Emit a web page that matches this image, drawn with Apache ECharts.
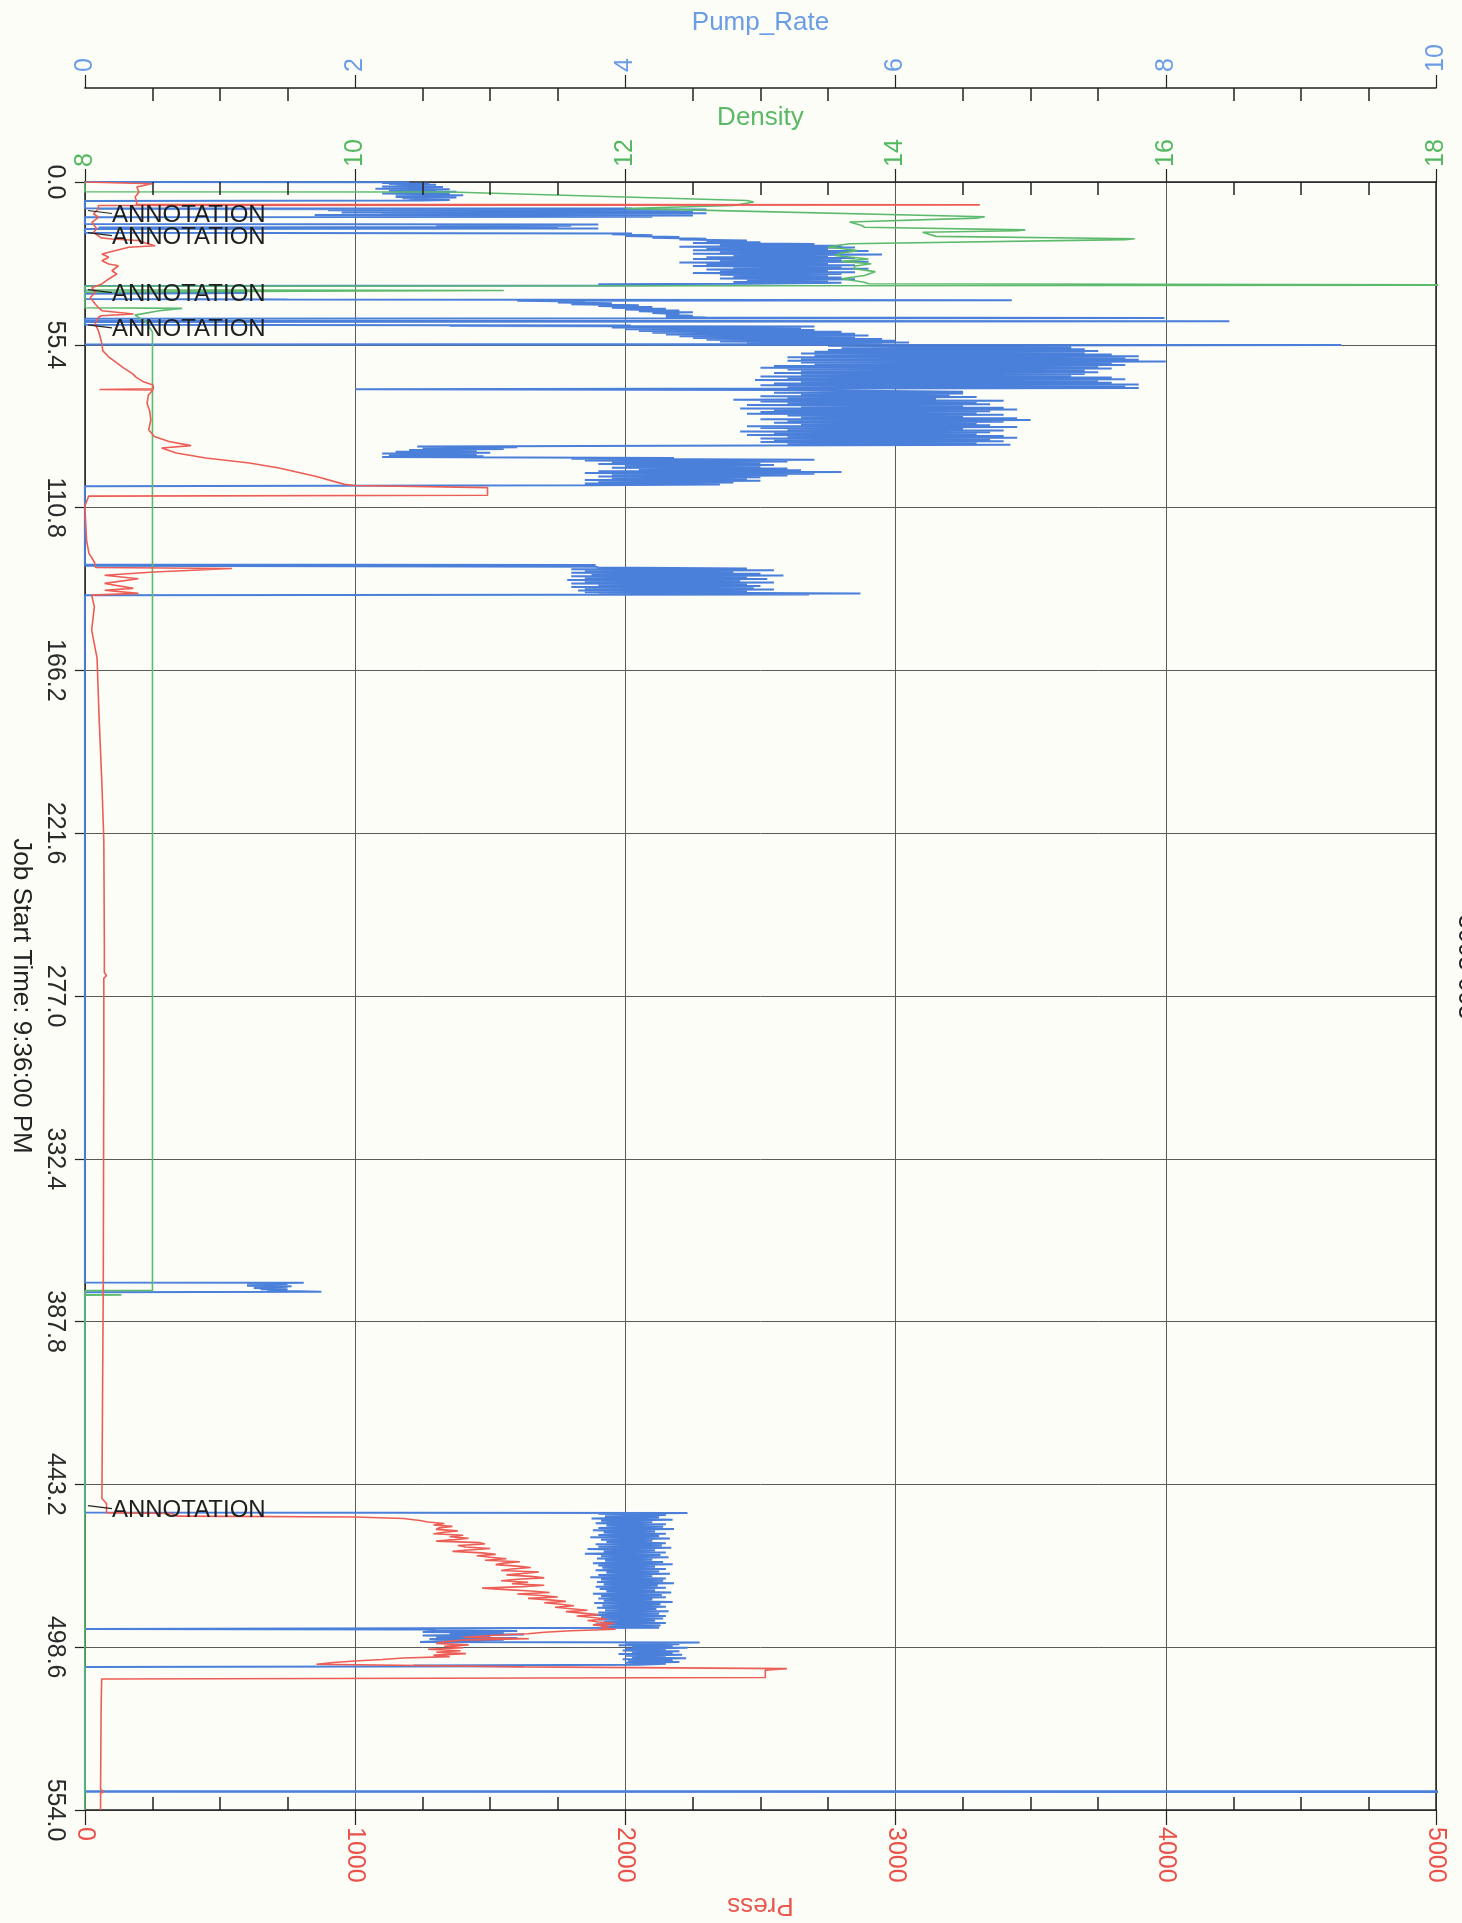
<!DOCTYPE html>
<html>
<head>
<meta charset="utf-8">
<script src="https://cdn.jsdelivr.net/npm/echarts@6/dist/echarts.min.js"></script>
<style>
html,body{margin:0;padding:0;background:#fdfdf8;}
#chart{width:1462px;height:1923px;}
</style>
</head>
<body>
<div id="chart"></div>
<script>
// ---------- axis ticks ----------
const timeTicks = [0, 55.4, 110.8, 166.2, 221.6, 277.0, 332.4, 387.8, 443.2, 498.6, 554.0];
const pressTicks = [0, 1000, 2000, 3000, 4000, 5000];
const densityTicks = [8, 10, 12, 14, 16, 18];
const pumpTicks = [0, 2, 4, 6, 8, 10];

// ---------- Pump_Rate (time, bpm) ----------
const pumpStart = [
  [0,0],[0.1,2.4],[0.3,2.2],[0.5,2.55],[0.7,2.25],[0.9,2.6],[1.1,2.3],[1.3,2.5],[1.5,2.2],[1.7,2.65],
  [1.9,2.3],[2.1,2.55],[2.3,2.15],[2.5,2.7],[2.7,2.3],[2.9,2.6],[3.1,2.25],[3.3,2.75],[3.5,2.35],[3.7,2.6],
  [3.9,2.2],[4.1,2.7],[4.3,2.3],[4.5,2.8],[4.7,2.4],[4.9,2.65],[5.1,2.3],[5.3,2.75],[5.5,2.35],[5.7,2.6],
  [5.9,2.4],[6.1,2.7],[6.3,2.5],[6.5,0],
  [8.9,0],[9.0,4.05],[9.2,0.1],[9.4,4.6],[9.6,1.8],[9.8,4.4],[10.0,2.0],[10.2,4.5],[10.4,1.9],[10.6,4.6],
  [10.8,2.2],[11.0,4.3],[11.2,1.7],[11.4,4.5],[11.6,2.1],[11.8,4.2],[12.0,0],
  [14.3,0],[14.5,3.8],[14.7,2.6],[14.9,3.6],[15.1,2.7],[15.3,3.5],[15.5,0.1],[15.8,3.8],[16.0,0],
  [17.3,0],[17.5,4.05],[17.8,3.9],[18.1,4.2],[18.4,4.0],[18.7,4.4],[19.0,4.2],[19.3,4.6],[19.6,4.4],
  [19.9,4.9],[20.2,4.6],[20.5,5.0]
];
const pumpBurst1 = [4.5,5.4,4.7,5.6,4.4,5.7,4.6,5.5,4.5,5.8,4.7,5.6,4.5,5.9,4.8,5.5,4.6,5.7,4.5,5.6,
  4.7,5.8,4.4,5.5,4.6,5.7,4.5,5.6,4.8,5.8,4.6,5.5,4.7,5.7,4.5,5.6,4.7,5.5,4.8,5.6,4.7,5.7,4.9,5.5,4.8,5.6,4.9];
const pumpMid1 = [
  [34.8,3.8],[35.0,4.7],[35.2,3.9],[35.4,0],[37.6,0],[37.8,1.2],[38.0,0],[39.8,0],[40.0,1.5],[40.2,6.86],
  [40.4,3.2],[40.7,3.7],[41.0,3.5],[41.3,3.9],[41.6,3.6],[41.9,4.1],[42.2,3.8],[42.5,4.2],[42.8,3.9],[43.1,4.3],
  [43.4,4.0],[43.7,4.4],[44.0,4.1],[44.3,4.5],[44.6,4.2],[44.9,4.4],[45.2,4.3],[45.5,4.5],[45.8,4.3],[46.1,4.6],
  [46.3,7.99],[46.5,0],[47.2,0],[47.4,8.47],[47.6,0],[48.6,0],[48.8,4.04],[49.0,2.7],[49.2,5.4],[49.5,3.9],
  [49.8,5.3],[50.1,4.0],[50.4,5.4],[50.7,4.1],[51.0,5.6],[51.3,4.2],[51.6,5.7],[51.9,4.3],[52.2,5.8],[52.5,4.4],
  [52.8,5.7],[53.1,4.5],[53.4,5.9],[53.7,4.6],[54.0,6.0],[54.3,4.7],[54.6,6.1],[54.9,4.9],[55.1,5.9],[55.3,0],
  [55.5,9.3],[55.7,5.5]
];
const pumpBurst2 = [5.5,7.3,5.6,7.4,5.5,7.5,5.4,7.4,5.3,7.6,5.4,7.8,5.2,7.7,5.3,7.8,5.2,8.0,5.3,7.6,
  5.4,7.7,5.1,7.5,5.0,7.6,5.2,7.4,5.3,7.5,5.1,7.4,5.3,7.3,5.0,7.6,5.2,7.7,4.96,7.5,5.3,7.6,5.1,7.8,5.0,7.7,5.2,7.8];
const pumpMid2 = [[70.5,2.0],[70.8,5.2]];
const pumpBurst3 = [5.2,6.5,5.1,6.5,5.3,6.4,5.0,6.6,5.2,6.3,4.8,6.8,5.0,6.6,5.2,6.7,4.9,6.5,5.3,6.8,
  4.85,6.9,5.1,6.7,5.0,6.6,4.9,6.8,5.2,6.5,5.3,6.9,5.0,7.0,5.2,6.8,5.1,6.6,5.3,6.7,
  4.9,6.9,5.0,6.5,5.2,6.8,4.85,6.7,5.1,6.6,4.9,6.8,5.2,6.9,5.0,6.7,5.1,6.8,5.0,6.6,5.2,6.85];
const pumpMid3 = [
  [89.8,6.85],[90.0,2.46],[90.3,3.2],[90.6,2.5],[90.9,3.1],[91.2,2.4],[91.5,2.9],[91.8,2.3],[92.1,3.0],[92.4,2.2],
  [92.7,2.9],[93.0,2.25],[93.3,2.95],[93.6,2.2],[93.9,4.36],[94.2,3.6],[94.5,5.4],[94.8,3.7],[95.1,5.2],[95.4,3.9],
  [95.7,5.0],[96.0,3.8],[96.3,5.1],[96.6,4.0],[96.9,5.0],[97.2,3.9],[97.5,5.2],[97.8,4.1],[98.1,5.3],[98.4,3.8],
  [98.7,5.6],[99.0,3.7],[99.3,5.4],[99.6,3.9],[99.9,5.2],[100.2,3.8],[100.5,5.0],[100.8,3.9],[101.1,4.9],[101.4,3.7],
  [101.7,5.0],[102.0,3.8],[102.3,4.8],[102.6,3.7],[102.9,4.7],[103.2,3.7],[103.5,0],
  [130.2,0],[130.3,3.78],[130.6,0],[130.9,3.78]
];
const pumpBurst4 = [3.8,4.9,3.6,5.1,3.7,4.8,3.6,5.0,3.75,5.17,3.6,4.9,3.7,5.05,3.57,4.85,3.7,5.1,3.6,4.9,
  3.8,5.0,3.6,4.95,3.7,5.1,3.65,4.9,3.7];
const pumpMid4 = [[140.0,5.74],[140.2,3.8],[140.4,5.36],[140.6,0],[374.5,0],[374.6,1.62]];
const pumpBurst5 = [1.2,1.5,1.25,1.45,1.2,1.53,1.3,1.5,1.25,1.45,1.3,1.5,1.35,1.5];
const pumpMid5 = [[377.6,1.75],[377.8,0],[452.8,0],[452.9,4.46]];
const pumpBurst6 = [3.8,4.3,3.85,4.25,3.75,4.35,3.82,4.2,3.78,4.3,3.86,4.28,3.8,4.36,3.76,4.22,3.84,4.3,3.8,4.25,
  3.74,4.33,3.82,4.2,3.86,4.3,3.78,4.27,3.8,4.34,3.72,4.22,3.84,4.3,3.7,4.26,3.82,4.32,3.79,4.2,
  3.85,4.28,3.76,4.35,3.8,4.22,3.83,4.3,3.78,4.25,3.86,4.33,3.8,4.2,3.74,4.3,3.82,4.28,3.79,4.36,
  3.84,4.24,3.78,4.3,3.81,4.22,3.86,4.34,3.76,4.27,3.82,4.3,3.8,4.2,3.84,4.35,3.77,4.26,3.83,4.3,
  3.79,4.23,3.85,4.32,3.8,4.25,3.76,4.3,3.82,4.28,3.8,4.22,3.84,4.3,3.78,4.26,3.82,4.25];
const pumpMid6 = [[492.3,4.25],[492.4,0],[492.6,2.5]];
const pumpBurst7 = [2.6,3.2,2.5,3.1,2.7,3.25,2.5,3.0,2.6,3.2,2.55,3.1,2.7];
const pumpMid7 = [[496.8,2.48],[497.0,4.55]];
const pumpBurst8 = [4.0,4.4,3.95,4.35,4.05,4.46,4.0,4.3,3.98,4.4,4.05,4.35,3.95,4.42,4.0,4.3,4.05,4.45,3.98,4.35,4.02,4.4,4.0,4.3];
const pumpEnd = [[504.6,4.1],[504.8,2.43],[505.1,3.25],[505.3,0],[547.6,0],[547.65,10.5],[547.8,0],[547.85,10.5]];

// ---------- Press (time, psi) ----------
const pressStart = [
  [0,0],[0.3,0],[0.6,248],[1.7,192],[3.4,200],[5.1,186],[6.8,192],[7.6,190],[7.8,3312],[8.0,50],
  [9.1,50],[10.8,32],[12,50],[13.7,26],[15.9,44],[17.1,32],[19.0,60],[19.4,100],[19.9,198],[21.1,235],
  [21.7,260],[22.2,162],[24.5,63],[25.6,88],[26.8,63],[27.9,88],[28.5,124],[30.2,100],[31.3,118],[33.0,88],
  [34.7,63],[35.9,26],[37.6,38],[39.3,20],[41.5,38],[42.7,50],[43.8,63],[44.9,180],[45.5,60],[46.1,50],
  [48.3,38],[50.6,50],[52.9,57],[55.1,63],[57.4,66],[59.7,90],[61.8,122],[63.1,140],[65.2,176],[66.5,190],
  [68,217],[69.1,252],[70.4,254],[70.6,54],[70.8,252],[72.5,235],[75.3,230],[78,240],[81,244],[84.3,236],
  [86.6,257],[88.3,311],[89.7,393],[90.5,284],[92.2,338],[93.9,447],[95.6,609],[97.3,718],[100.1,853],[102.9,961],
  [103.3,1000],[104,1490],[106.6,1490],[106.9,14],[110.2,0],[121.9,6],[126.4,15],[129.3,35],[131.2,40],[131.5,544],
  [132.7,256],[133.8,73],[135,198],[136.6,73],[138.3,179],[138.9,73],[140,198],[140.6,25],[144.6,35],[152.5,25],
  [162,45],[181,52],[205,63],[224,70],[259,72],[269,72],[270,80],[271,70],[300,70],[374,68],
  [448,63],[449.7,80],[452.8,80],[453.1,321],[454,339],[454.3,1000],[454.8,1179],[455.5,1240]
];
const pressClimb = [1268,1330,1290,1360,1310,1300,1380,1330,1290,1400,1350,1420,1370,1300,1460,1480,1380,1410,1500,1420,
  1360,1470,1520,1450,1500,1560,1480,1610,1550,1520,1600,1650,1580,1540,1680,1620,1560,1650,1700,1600,
  1540,1640,1580,1700,1620,1470,1560,1650,1720,1600,1690,1750,1640,1720,1780,1700,1760,1810,1740,1800,
  1860,1780,1840,1900,1820,1880,1930,1860,1900,1960,1880,1940,1910,1964,1800,1700,1640];
const pressEnd = [
  [494.6,1500],[495.2,1400],[495.7,1643],[496.2,1393],[496.8,1330],[497.3,1300],[497.8,1420],[498.3,1330],[498.8,1400],[499.3,1270],
  [499.8,1390],[500.3,1300],[500.8,1410],[501.3,1290],[501.8,1350],[502.3,1180],[502.8,1100],[503.3,1000],[503.8,920],[504.4,857],
  [505.3,1625],[505.9,2598],[506.4,2518],[508.9,2518],[509.4,62],[520,60],[547,58],[547.8,70],[548.3,58],[554,58]
];

// ---------- Density (time, ppg) ----------
const densityData = [
  [0,8],[3.3,8],[3.4,10.7],[6.3,12.9],[6.8,12.95],[8.0,12.8],[9.0,12.0],[9.3,12.3],[11.8,14.66],[12.3,14.6],
  [13.6,13.66],[14.8,13.75],[15.4,13.77],[16.3,14.96],[16.6,14.9],[17.1,14.2],[18.5,14.3],[19.3,15.77],[19.6,15.7],[21.0,13.66],
  [22.1,13.5],[23.3,13.72],[24.2,13.6],[25.0,13.55],[26.2,13.8],[27.0,13.6],[27.8,13.82],[28.6,13.7],[29.5,13.69],[30.5,13.85],
  [31.8,13.77],[32.9,13.6],[34.1,13.77],[34.6,13.8],[35.1,19],[35.5,8.0],[36.7,8.0],[36.9,11.1],[37.2,9.6],[37.5,8.0],
  [42.8,8.0],[43.0,8.72],[43.8,8.55],[45.3,8.37],[47.5,8.45],[51,8.5],[377.2,8.5],[377.25,8.0],[378.6,8.0],[378.7,8.27],
  [378.85,8.0],[554,8.0]
];

// ---------- annotations (time of marker) ----------
const annotationTimes = [9.7, 17.2, 36.6, 48.6, 450.4];
const annotationText = 'ANNOTATION';

// sampled stretches of the logger (start time, sample step in minutes)
function sampled(start, step, vals) { return vals.map((v, i) => [Math.round((start + i * step) * 100) / 100, v]); }

const pumpSeries = [].concat(
  pumpStart, sampled(20.8, 0.3, pumpBurst1), pumpMid1, sampled(56.0, 0.3, pumpBurst2), pumpMid2,
  sampled(71.1, 0.3, pumpBurst3), pumpMid3, sampled(131.2, 0.3, pumpBurst4), pumpMid4,
  sampled(374.8, 0.2, pumpBurst5), pumpMid5, sampled(453.2, 0.4, pumpBurst6), pumpMid6,
  sampled(492.8, 0.3, pumpBurst7), pumpMid7, sampled(497.3, 0.3, pumpBurst8), pumpEnd
);
const pressSeries = [].concat(pressStart, sampled(456.0, 0.5, pressClimb), pressEnd);

const FONT = '"Liberation Sans", Arial, sans-serif';
const BLUE = '#4a7fda', RED = '#ec5d55', GREEN = '#5cba6c';

const chart = echarts.init(document.getElementById('chart'), null, { renderer: 'canvas' });

function minorAxis(extra) {
  return Object.assign({
    type: 'value', axisLine: { show: false, onZero: false }, axisTick: { show: false, inside: true },
    minorTick: { show: true, splitNumber: 4, length: 13, lineStyle: { color: '#222', width: 1.5 } },
    axisLabel: { show: false }, splitLine: { show: false }, z: 6
  }, extra);
}

const option = {
  backgroundColor: '#fdfdf8',
  animation: false,
  textStyle: { fontFamily: FONT },
  grid: { left: 83, right: 26, top: 182, bottom: 112, containLabel: false },
  xAxis: [
    {
      type: 'value', position: 'bottom', min: pressTicks[0], max: pressTicks[pressTicks.length - 1], interval: 1000,
      name: 'Press', nameLocation: 'middle', nameGap: 82, nameRotate: 180,
      nameTextStyle: { color: '#e8584f', fontSize: 26, fontFamily: FONT },
      axisLine: { show: true, onZero: false, lineStyle: { color: '#222', width: 1.5 } },
      axisTick: { show: true, inside: false, length: 15, lineStyle: { color: '#222', width: 1.2 } },
      axisLabel: { rotate: -90, margin: 17, color: '#e8524a', fontSize: 25, fontFamily: FONT,
        showMinLabel: true, showMaxLabel: true, formatter: v => String(v) },
      splitLine: { show: true, lineStyle: { color: '#5a5a5a', width: 1 } }
    },
    minorAxis({ position: 'bottom', min: 0, max: 5000, interval: 1000 }),
    {
      type: 'value', position: 'top', min: densityTicks[0], max: densityTicks[densityTicks.length - 1], interval: 2,
      name: 'Density', nameLocation: 'middle', nameGap: 47,
      nameTextStyle: { color: '#5ab967', fontSize: 26, fontFamily: FONT },
      axisLine: { show: true, onZero: false, lineStyle: { color: '#222', width: 1.5 } },
      axisTick: { show: true, inside: false, length: 13, lineStyle: { color: '#222', width: 1.2 } },
      axisLabel: { rotate: -90, margin: 15, color: '#52b85f', fontSize: 25, fontFamily: FONT,
        showMinLabel: true, showMaxLabel: true, formatter: v => String(v) },
      splitLine: { show: false }
    },
    minorAxis({ position: 'top', min: 8, max: 18, interval: 2 }),
    {
      type: 'value', position: 'top', offset: 94, min: pumpTicks[0], max: pumpTicks[pumpTicks.length - 1], interval: 2,
      name: 'Pump_Rate', nameLocation: 'middle', nameGap: 47,
      nameTextStyle: { color: '#6a9de6', fontSize: 26, fontFamily: FONT },
      axisLine: { show: true, onZero: false, lineStyle: { color: '#222', width: 1.5 } },
      axisTick: { show: true, inside: false, length: 13, lineStyle: { color: '#222', width: 1.2 } },
      axisLabel: { rotate: -90, margin: 16, color: '#6a9de6', fontSize: 25, fontFamily: FONT,
        showMinLabel: true, showMaxLabel: true, formatter: v => String(v) },
      splitLine: { show: false }
    },
    minorAxis({ position: 'top', offset: 94, min: 0, max: 10, interval: 2 })
  ],
  yAxis: [
    {
      type: 'value', position: 'left', inverse: true, min: timeTicks[0], max: timeTicks[timeTicks.length - 1], interval: 55.4,
      name: 'Job Start Time: 9:36:00 PM', nameLocation: 'middle', nameRotate: -90, nameGap: 50,
      nameTextStyle: { color: '#222', fontSize: 26, fontFamily: FONT },
      axisLine: { show: true, onZero: false, lineStyle: { color: '#222', width: 1.5 } },
      axisTick: { show: true, length: 10, lineStyle: { color: '#222', width: 1.2 } },
      axisLabel: { rotate: -90, margin: 18, color: '#2a2a2a', fontSize: 25, fontFamily: FONT,
        showMinLabel: true, showMaxLabel: true, formatter: v => Number(v).toFixed(1) },
      splitLine: { show: true, lineStyle: { color: '#5a5a5a', width: 1 } }
    },
    {
      type: 'value', position: 'right', inverse: true, min: 0, max: 554,
      axisLine: { show: true, onZero: false, lineStyle: { color: '#222', width: 1.5 } },
      axisTick: { show: false }, axisLabel: { show: false }, splitLine: { show: false }
    }
  ],
  graphic: [
    { type: 'text', x: 1453, y: 967, rotation: -Math.PI / 2, silent: true,
      style: { text: '3003 003', font: '25px ' + FONT, fill: '#222', align: 'center', verticalAlign: 'bottom' } }
  ],
  series: [
    {
      name: 'Pump_Rate', type: 'line', xAxisIndex: 4, yAxisIndex: 0, showSymbol: false, symbol: 'none', clip: true,
      lineStyle: { color: BLUE, width: 2 }, data: pumpSeries.map(p => [p[1], p[0]]), z: 3
    },
    {
      name: 'Density', type: 'line', xAxisIndex: 2, yAxisIndex: 0, showSymbol: false, symbol: 'none', clip: true,
      lineStyle: { color: GREEN, width: 1.6 }, data: densityData.map(p => [p[1], p[0]]), z: 4
    },
    {
      name: 'Press', type: 'line', xAxisIndex: 0, yAxisIndex: 0, showSymbol: false, symbol: 'none', clip: true,
      lineStyle: { color: RED, width: 1.6 }, data: pressSeries.map(p => [p[1], p[0]]), z: 5
    },
    {
      name: 'Annotations', type: 'custom', xAxisIndex: 0, yAxisIndex: 0, clip: false, silent: true, z: 10,
      data: annotationTimes.map(t => [0, t]),
      renderItem: function (params, api) {
        const p = api.coord([api.value(0), api.value(1)]);
        return {
          type: 'group',
          children: [
            { type: 'line', shape: { x1: p[0] + 3, y1: p[1], x2: p[0] + 27, y2: p[1] + 3 },
              style: { stroke: '#222', lineWidth: 1.2 } },
            { type: 'text', x: p[0] + 27, y: p[1] + 5,
              style: { text: annotationText, fill: '#1e1e1e', font: '24px ' + FONT, align: 'left', verticalAlign: 'middle' } }
          ]
        };
      }
    }
  ]
};
chart.setOption(option);
</script>
</body>
</html>
